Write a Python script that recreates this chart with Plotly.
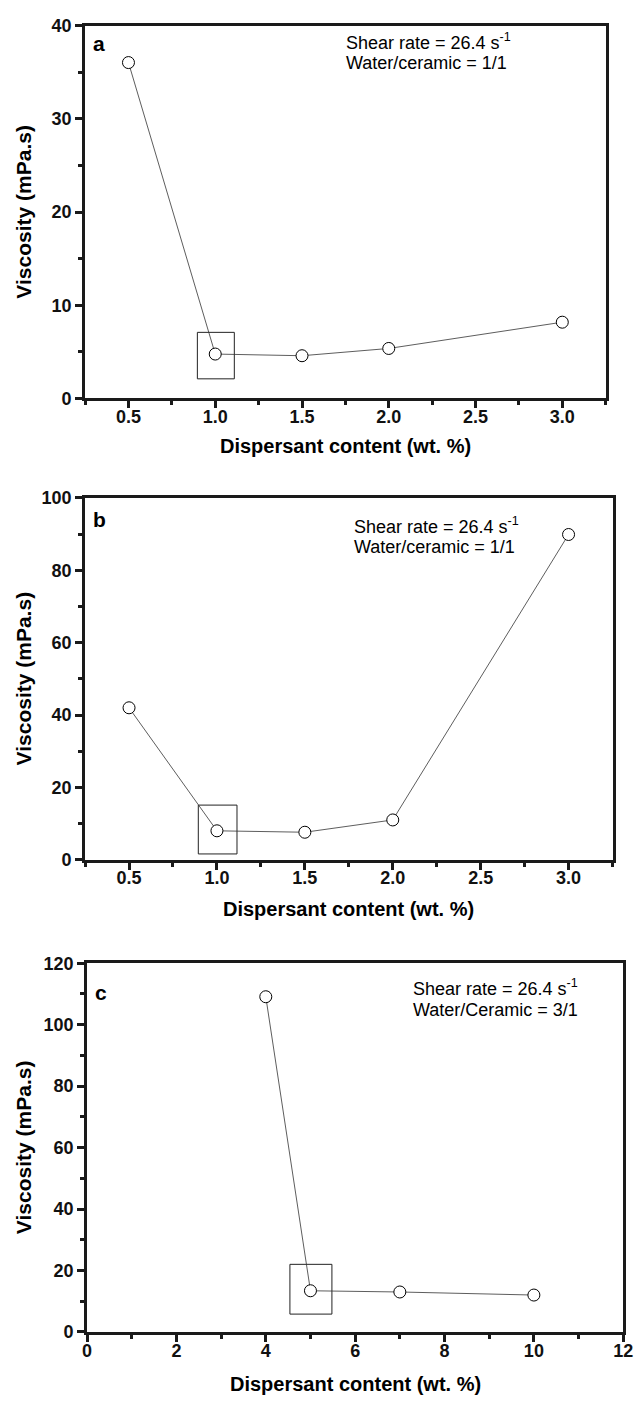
import plotly.graph_objects as go

# ---- data ----
xa = [0.5, 1.0, 1.5, 2.0, 3.0]
ya = [36.05, 4.76, 4.58, 5.36, 8.18]
xb = [0.5, 1.0, 1.5, 2.0, 3.0]
yb = [42.0, 8.0, 7.6, 11.0, 89.9]
xc = [4, 5, 7, 10]
yc = [109.1, 13.4, 13.0, 12.0]

# highlight boxes (x0, x1, y0, y1)
box_a = [0.897, 1.11, 2.1, 7.09]
box_b = [0.894, 1.114, 1.6, 15.1]
box_c = [4.54, 5.48, 5.8, 22.0]

panel_labels = ["a", "b", "c"]
ratio_texts = ["Water/ceramic = 1/1", "Water/ceramic = 1/1", "Water/Ceramic = 3/1"]
shear_text = "Shear rate = 26.4 s<sup>-1</sup>"
xtitle = "Dispersant content (wt. %)"
ytitle = "Viscosity (mPa.s)"

W, H = 644, 1406
FONT = "Liberation Sans, Arial, Helvetica, sans-serif"
AX = "#1a1a1a"

# panel pixel boxes: left, right, top, bottom
panels = [(82, 615, 16, 394), (82, 622, 495, 862), (84, 633, 967, 1341)]
xtitle_y = [442, 912, 1394]
# text positions: x (data), px below top for line1/line2, label px below top
ann_x = [1.74, 1.77, 7.25]
line1_px = [16, 28, 25]
line2_px = [38, 50, 47]
lab_px = [18, 22, 30]

def xd(l, r):
    return [l / W, r / W]

def yd(t, b):
    return [1 - b / H, 1 - t / H]

fig = go.Figure()

series = [(xa, ya), (xb, yb), (xc, yc)]
for i, (xs, ys) in enumerate(series):
    sfx = "" if i == 0 else str(i + 1)
    fig.add_trace(go.Scatter(
        x=xs, y=ys, mode="lines+markers", xaxis="x" + sfx, yaxis="y" + sfx,
        line=dict(color="#333333", width=0.8),
        marker=dict(symbol="circle", size=12, color="white",
                    line=dict(color="black", width=1)),
        showlegend=False, hoverinfo="skip"))

xranges = [[0.25, 3.25], [0.25, 3.25], [0, 12]]
xdt = [0.5, 0.5, 2]
x0t = [0.5, 0.5, 0]
yranges = [[0, 40], [0, 100], [0, 120]]
ydt = [10, 20, 20]

layout = dict(width=W, height=H, autosize=False,
              margin=dict(l=0, r=0, t=0, b=0),
              paper_bgcolor="white", plot_bgcolor="white",
              font=dict(family=FONT, color="black"))

for i in range(3):
    l, r, t, b = panels[i]
    sfx = "" if i == 0 else str(i + 1)
    common = dict(showline=True, linecolor=AX, linewidth=3, mirror=True,
                  ticks="outside", ticklen=7, tickwidth=2.5, tickcolor=AX,
                  showgrid=False, zeroline=False,
                  tickfont=dict(family=FONT, size=18, color="#111", weight="bold"),
                  )
    layout["xaxis" + sfx] = dict(
        common, domain=xd(l, r), anchor="y" + sfx, range=xranges[i],
        tick0=x0t[i], dtick=xdt[i], ticklabelstandoff=-7,
        tickformat=".1f" if i < 2 else "d",
        minor=dict(ticks="outside", ticklen=4, tickwidth=2.5, tickcolor=AX,
                   dtick=xdt[i] / 2, tick0=0, showgrid=False))
    layout["yaxis" + sfx] = dict(
        common, domain=yd(t, b), anchor="x" + sfx, range=yranges[i],
        tick0=0, dtick=ydt[i],
        minor=dict(ticks="outside", ticklen=4, tickwidth=2.5, tickcolor=AX,
                   dtick=ydt[i] / 2, tick0=0, showgrid=False))
fig.update_layout(**layout)

boxes = [box_a, box_b, box_c]
for i in range(3):
    sfx = "" if i == 0 else str(i + 1)
    bx = boxes[i]
    l, r, t, b = panels[i]
    hpx = b - t
    fig.add_shape(type="rect", xref="x" + sfx, yref="y" + sfx,
                  x0=bx[0], x1=bx[1], y0=bx[2], y1=bx[3],
                  line=dict(color="#222", width=1), layer="below")
    fig.add_annotation(xref="x" + sfx + " domain", yref="y" + sfx + " domain",
                       x=6 / (r - l), y=1 - lab_px[i] / hpx,
                       xanchor="left", yanchor="middle",
                       text="<b>" + panel_labels[i] + "</b>", showarrow=False,
                       font=dict(family=FONT, size=21))
    fig.add_annotation(xref="x" + sfx, yref="y" + sfx + " domain",
                       x=ann_x[i], y=1 - line1_px[i] / hpx,
                       xanchor="left", yanchor="middle",
                       text=shear_text, showarrow=False,
                       font=dict(family=FONT, size=18))
    fig.add_annotation(xref="x" + sfx, yref="y" + sfx + " domain",
                       x=ann_x[i], y=1 - line2_px[i] / hpx,
                       xanchor="left", yanchor="middle",
                       text=ratio_texts[i], showarrow=False,
                       font=dict(family=FONT, size=18))
    # axis titles
    fig.add_annotation(xref="paper", yref="paper",
                       x=(l + r) / 2 / W, y=1 - xtitle_y[i] / H,
                       xanchor="center", yanchor="middle",
                       text="<b>" + xtitle + "</b>", showarrow=False,
                       font=dict(family=FONT, size=20))
    fig.add_annotation(xref="paper", yref="paper",
                       x=19 / W, y=1 - (t + b) / 2 / H,
                       xanchor="center", yanchor="middle", textangle=-90,
                       text="<b>" + ytitle + "</b>", showarrow=False,
                       font=dict(family=FONT, size=21))

fig.write_html("out.html", config={"displayModeBar": False},
               post_script="document.body.style.margin='0';")
